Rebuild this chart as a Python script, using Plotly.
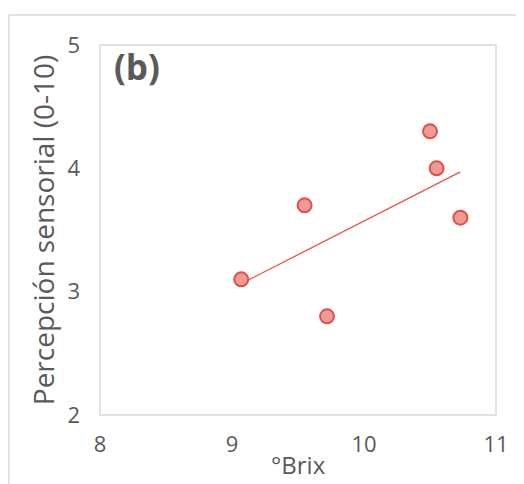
import numpy as np
import plotly.graph_objects as go

brix = [9.07, 9.55, 9.72, 10.5, 10.55, 10.73]
percepcion = [3.1, 3.7, 2.8, 4.3, 4.0, 3.6]
x_ticks = [8, 9, 10, 11]
y_ticks = [2, 3, 4, 5]
x_title = "°Brix"
y_title = "Percepción sensorial (0-10)"

slope, intercept = np.polyfit(brix, percepcion, 1)
trend_x = [min(brix), max(brix)]
trend_y = [slope * v + intercept for v in trend_x]

grey = "#595959"
font = "Open Sans"

fig = go.Figure()
fig.add_trace(go.Scatter(x=trend_x, y=trend_y, mode="lines",
                         line=dict(color="#E8534C", width=1.3),
                         hoverinfo="skip", showlegend=False))
fig.add_trace(go.Scatter(x=brix, y=percepcion, mode="markers",
                         marker=dict(size=14, color="#F09A96",
                                     line=dict(color="#E0504A", width=2)),
                         showlegend=False))

# page body has an 8px default margin, so the figure is sized/offset to fit the window
fig.update_layout(
    width=516, height=476,
    margin=dict(l=92, r=28, t=37, b=69),
    paper_bgcolor="white", plot_bgcolor="white",
    font=dict(family=font, color=grey, size=20),
    xaxis=dict(range=[8, 11], tickvals=x_ticks, showgrid=False, zeroline=False,
               showline=False, ticks="", tickfont=dict(size=22, color=grey),
               ticklabelstandoff=14, automargin=False),
    yaxis=dict(range=[2, 5], tickvals=y_ticks, showgrid=False, zeroline=False,
               showline=False, ticks="", tickfont=dict(size=22, color=grey),
               ticklabelstandoff=19, automargin=False,
               title=dict(text=y_title, font=dict(size=28, color=grey), standoff=4)),
    shapes=[
        dict(type="rect", xref="paper", yref="paper", x0=0, x1=1, y0=0, y1=1,
             line=dict(color="#D9D9D9", width=1.5), fillcolor="rgba(0,0,0,0)"),
        dict(type="line", xref="paper", yref="paper", x0=-0.2298, x1=1.2,
             y0=1.0811, y1=1.0811, line=dict(color="#D9D9D9", width=1.5)),
        dict(type="line", xref="paper", yref="paper", x0=-0.2298, x1=-0.2298,
             y0=1.0811, y1=-0.3, line=dict(color="#D9D9D9", width=1.5)),
    ],
    annotations=[
        dict(text="<b>(b)</b>", xref="paper", yref="paper", x=0.03, y=1.011,
             xanchor="left", yanchor="top", showarrow=False,
             font=dict(size=35, color=grey, family=font)),
        dict(text=x_title, xref="paper", yref="paper", x=0.5, y=-0.184,
             xanchor="center", yanchor="bottom", showarrow=False,
             font=dict(size=24, color=grey, family=font)),
    ],
)

fig.write_html("out.html")
